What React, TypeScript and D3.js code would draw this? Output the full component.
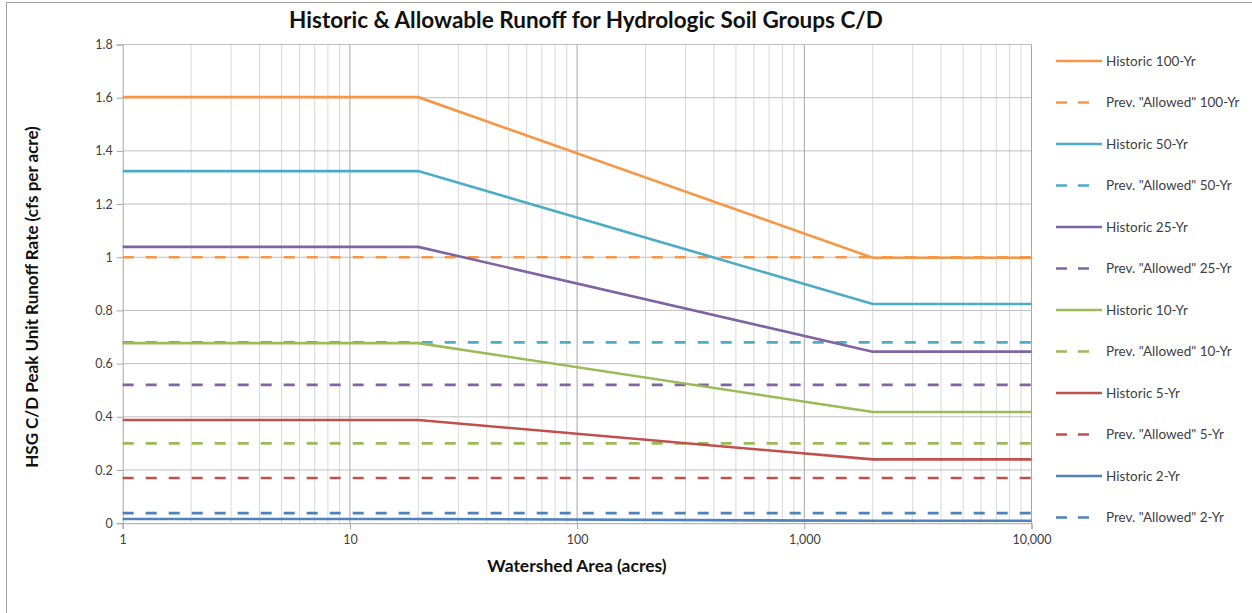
import React, { useEffect, useRef } from 'react'
import * as d3 from 'd3'

// breakpoints of the historic curves (acres)
const areaBreaks = [1, 20, 2000, 10000]
const allowedAreas = [1, 10000]

const historic100 = [1.602, 1.602, 0.998, 0.998]
const historic50 = [1.324, 1.324, 0.824, 0.824]
const historic25 = [1.039, 1.039, 0.645, 0.645]
const historic10 = [0.677, 0.677, 0.418, 0.418]
const historic5 = [0.388, 0.388, 0.24, 0.24]
const historic2 = [0.016, 0.016, 0.009, 0.009]

const allowed100 = [1.0, 1.0]
const allowed50 = [0.68, 0.68]
const allowed25 = [0.52, 0.52]
const allowed10 = [0.3, 0.3]
const allowed5 = [0.17, 0.17]
const allowed2 = [0.038, 0.038]

const yTicks = [0, 0.2, 0.4, 0.6, 0.8, 1, 1.2, 1.4, 1.6, 1.8]
const xTicks = [1, 10, 100, 1000, 10000]

const series = [
    { name: 'Historic 100-Yr', color: '#F79646', dashed: false, xs: areaBreaks, ys: historic100 },
    { name: 'Prev. "Allowed" 100-Yr', color: '#F79646', dashed: true, xs: allowedAreas, ys: allowed100 },
    { name: 'Historic 50-Yr', color: '#4BACC6', dashed: false, xs: areaBreaks, ys: historic50 },
    { name: 'Prev. "Allowed" 50-Yr', color: '#4BACC6', dashed: true, xs: allowedAreas, ys: allowed50 },
    { name: 'Historic 25-Yr', color: '#8064A2', dashed: false, xs: areaBreaks, ys: historic25 },
    { name: 'Prev. "Allowed" 25-Yr', color: '#8064A2', dashed: true, xs: allowedAreas, ys: allowed25 },
    { name: 'Historic 10-Yr', color: '#9BBB59', dashed: false, xs: areaBreaks, ys: historic10 },
    { name: 'Prev. "Allowed" 10-Yr', color: '#9BBB59', dashed: true, xs: allowedAreas, ys: allowed10 },
    { name: 'Historic 5-Yr', color: '#C0504D', dashed: false, xs: areaBreaks, ys: historic5 },
    { name: 'Prev. "Allowed" 5-Yr', color: '#C0504D', dashed: true, xs: allowedAreas, ys: allowed5 },
    { name: 'Historic 2-Yr', color: '#4F81BD', dashed: false, xs: areaBreaks, ys: historic2 },
    { name: 'Prev. "Allowed" 2-Yr', color: '#4F81BD', dashed: true, xs: allowedAreas, ys: allowed2 },
]

const W = 1252
const H = 613
const FONT = 'Lato, "Open Sans", sans-serif'

const App = () => {
    const ref = useRef<SVGSVGElement>(null)

    useEffect(() => {
        const svg = d3.select(ref.current)
        svg.selectAll('*').remove()

        const left = 122.7
        const right = 1031.5
        const top = 44.5
        const bottom = 523.2

        const x = d3.scaleLog().domain([1, 10000]).range([left, right])
        const y = d3.scaleLinear().domain([0, 1.8]).range([bottom, top])

        // Frame
        svg.append('rect')
            .attr('x', 6.5).attr('y', 2.5)
            .attr('width', W + 20).attr('height', H + 20)
            .attr('fill', '#fff').attr('stroke', '#a0a0a0')

        // Title
        svg.append('text')
            .attr('x', 586).attr('y', 28)
            .attr('text-anchor', 'middle')
            .style('font-family', FONT).style('font-weight', 'bold').style('font-size', '22.5px')
            .attr('fill', '#111')
            .text('Historic & Allowable Runoff for Hydrologic Soil Groups C/D')

        // Minor vertical gridlines
        const minor: number[] = []
        for (let d = 1; d < 10000; d *= 10) {
            for (let k = 2; k <= 9; k++) minor.push(d * k)
        }
        svg.append('g').selectAll('line').data(minor).join('line')
            .attr('x1', v => x(v)).attr('x2', v => x(v))
            .attr('y1', top).attr('y2', bottom)
            .attr('stroke', '#d9d9d9').attr('stroke-width', 1)

        // Horizontal gridlines
        svg.append('g').selectAll('line').data(yTicks.slice(1)).join('line')
            .attr('x1', left).attr('x2', right)
            .attr('y1', v => y(v)).attr('y2', v => y(v))
            .attr('stroke', '#bfbfbf').attr('stroke-width', 1)

        // Major vertical gridlines
        svg.append('g').selectAll('line').data(xTicks.slice(1)).join('line')
            .attr('x1', v => x(v)).attr('x2', v => x(v))
            .attr('y1', top).attr('y2', bottom)
            .attr('stroke', '#a6a6a6').attr('stroke-width', 1)

        // Axes
        const yAxis = d3.axisLeft(y).tickValues(yTicks).tickSize(6).tickFormat(d3.format('~g'))
        const gy = svg.append('g').attr('transform', `translate(${left},0)`).call(yAxis)
        const xAxis = d3.axisBottom(x).tickValues(xTicks).tickSize(6).tickFormat(d3.format(','))
        const gx = svg.append('g').attr('transform', `translate(0,${bottom})`).call(xAxis)
        for (const g of [gx, gy]) {
            g.selectAll('path').attr('stroke', '#a6a6a6')
            g.selectAll('line').attr('stroke', '#a6a6a6')
            g.selectAll('text').style('font-family', FONT).style('font-size', '12.5px').attr('fill', '#404040')
        }
        gy.selectAll('text').attr('x', -10)
        gx.selectAll('text').attr('y', 12)

        // Axis titles
        svg.append('text')
            .attr('x', 577).attr('y', 572)
            .attr('text-anchor', 'middle')
            .style('font-family', FONT).style('font-weight', 'bold').style('font-size', '17.5px')
            .attr('fill', '#111')
            .text('Watershed Area (acres)')
        svg.append('text')
            .attr('transform', `translate(38,297) rotate(-90)`)
            .attr('text-anchor', 'middle')
            .style('font-family', FONT).style('font-weight', 'bold').style('font-size', '17px')
            .attr('fill', '#111')
            .text('HSG C/D Peak Unit Runoff Rate (cfs per acre)')

        // Lines
        const line = d3.line<[number, number]>().x(d => x(d[0])).y(d => y(d[1]))
        series.forEach(s => {
            svg.append('path')
                .datum(s.xs.map((v, i) => [v, s.ys[i]] as [number, number]))
                .attr('d', line)
                .attr('fill', 'none')
                .attr('stroke', s.color)
                .attr('stroke-width', 2.6)
                .attr('stroke-dasharray', s.dashed ? '11,12' : null)
        })

        // Legend
        const lg = svg.append('g')
        series.forEach((s, i) => {
            const ly = 61 + i * 41.5
            lg.append('line')
                .attr('x1', 1056).attr('x2', s.dashed ? 1090 : 1102)
                .attr('y1', ly).attr('y2', ly)
                .attr('stroke', s.color).attr('stroke-width', 2.6)
                .attr('stroke-dasharray', s.dashed ? '11,11' : null)
            lg.append('text')
                .attr('x', 1106).attr('y', ly + 4.5)
                .style('font-family', FONT).style('font-size', '13.5px').attr('fill', '#404040')
                .text(s.name)
        })
    }, [])

    return (
        <svg
            ref={ref}
            width={W}
            height={H}
            style={{ position: 'absolute', left: 0, top: 0, background: '#fff' }}
        />
    )
}

export default App
